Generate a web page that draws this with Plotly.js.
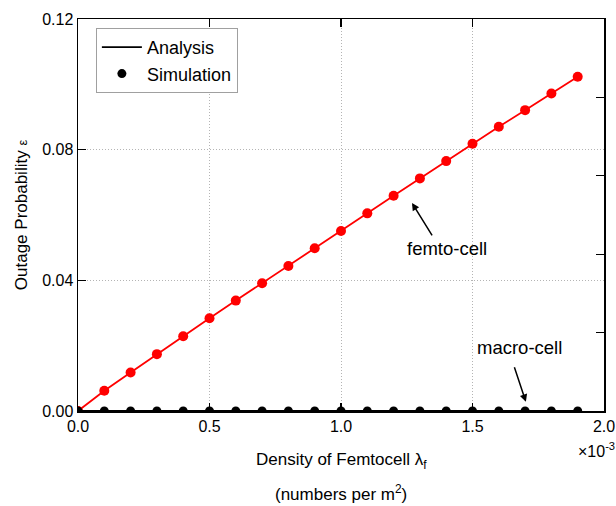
<!DOCTYPE html>
<html>
<head>
<meta charset="utf-8">
<script src="https://cdn.plot.ly/plotly-3.0.1.min.js"></script>
<style>html,body{margin:0;padding:0;background:#fff;}#chart{width:616px;height:506px;}</style>
</head>
<body>
<div id="chart"></div>
<script>
// Density of femtocells (x 10^-3 per m^2)
const density = [0, 0.1, 0.2, 0.3, 0.4, 0.5, 0.6, 0.7, 0.8, 0.9, 1.0, 1.1, 1.2, 1.3, 1.4, 1.5, 1.6, 1.7, 1.8, 1.9];
const femtoOutage = [0, 0.0062, 0.0118, 0.0174, 0.0229, 0.0284, 0.0338, 0.0391, 0.0444, 0.0498, 0.0551, 0.0605, 0.0659, 0.0712, 0.0765, 0.0818, 0.0870, 0.0921, 0.0972, 0.1023];
const macroOutage = [0, 0, 0, 0, 0, 0, 0, 0, 0, 0, 0, 0, 0, 0, 0, 0, 0, 0, 0, 0];
const xTickVals = [0, 0.5, 1.0, 1.5, 2.0];
const yTickVals = [0, 0.04, 0.08, 0.12];

const FONT = 'Liberation Sans, Arial, sans-serif';

const traces = [
  {x: density, y: femtoOutage, mode: 'lines', line: {color: '#ff0000', width: 1.8}, showlegend: false, hoverinfo: 'skip'},
  {x: density, y: femtoOutage, mode: 'markers', marker: {color: '#ff0000', size: 10}, showlegend: false},
  {x: density, y: macroOutage, mode: 'lines', name: 'Analysis', line: {color: '#000000', width: 1.8}},
  {x: density, y: macroOutage, mode: 'markers', name: 'Simulation', marker: {color: '#000000', size: 9}},
  {x: [0, 0.12], y: [0, 0.12], yaxis: 'y2', mode: 'markers', marker: {opacity: 0}, showlegend: false, hoverinfo: 'skip'}
];

const layout = {
  width: 616, height: 506,
  margin: {l: 78, r: 12, t: 19, b: 95},
  paper_bgcolor: '#ffffff', plot_bgcolor: '#ffffff',
  font: {family: FONT, size: 16, color: '#000'},
  showlegend: true,
  legend: {
    x: 0.034, y: 0.977, xanchor: 'left', yanchor: 'top',
    bordercolor: '#a0a0a0', borderwidth: 1, bgcolor: '#ffffff',
    font: {family: FONT, size: 18, color: '#000'},
    tracegroupgap: 0, itemwidth: 40
  },
  xaxis: {
    range: [0, 2], tickvals: xTickVals, tickformat: '.1f',
    ticks: 'inside', ticklen: 8, tickwidth: 1.2, tickcolor: '#000',
    showline: true, linecolor: '#000', linewidth: 1.5, mirror: 'ticks',
    showgrid: true, gridcolor: '#b4b4b4', griddash: '1px,2px', gridwidth: 1,
    zeroline: false, tickfont: {family: FONT, size: 16}
  },
  yaxis: {
    range: [0, 0.12], tickvals: yTickVals, tickformat: '.2f',
    ticks: 'inside', ticklen: 8, tickwidth: 1.2, tickcolor: '#000',
    showline: true, linecolor: '#000', linewidth: 1.5, mirror: true,
    showgrid: true, gridcolor: '#b4b4b4', griddash: '1px,2px', gridwidth: 1,
    zeroline: false, tickfont: {family: FONT, size: 16},
    title: {text: 'Outage Probability <span style="font-size:13px">ε</span>', font: {family: FONT, size: 17}, standoff: 10}
  },
  yaxis2: {
    overlaying: 'y', side: 'right', range: [0, 0.12], dtick: 0.024, tick0: 0,
    ticks: 'inside', ticklen: 8, tickwidth: 1.2, tickcolor: '#000',
    showticklabels: false, showgrid: false, zeroline: false, showline: false
  },
  annotations: [
    {xref: 'paper', yref: 'paper', x: 0.5, y: 0, yshift: -50, yanchor: 'middle', showarrow: false,
     text: 'Density of Femtocell λ<sub>f</sub>', font: {family: FONT, size: 17}},
    {xref: 'paper', yref: 'paper', x: 0.5, y: 0, yshift: -82, yanchor: 'middle', showarrow: false,
     text: '(numbers per m<sup>2</sup>)', font: {family: FONT, size: 17}},
    {xref: 'paper', yref: 'paper', x: 1, y: 0, xshift: 13, yshift: -27, xanchor: 'right', yanchor: 'top', showarrow: false,
     text: '×10<sup>-3</sup>', font: {family: FONT, size: 16}},
    {x: 1.403, y: 0.0496, showarrow: false, text: 'femto-cell', font: {family: FONT, size: 18.5}},
    {x: 1.27, y: 0.0637, ax: 21, ay: 34, showarrow: true, text: '', arrowhead: 2, arrowsize: 1, arrowwidth: 1.5, arrowcolor: '#000', standoff: 0},
    {x: 1.677, y: 0.0193, showarrow: false, text: 'macro-cell', font: {family: FONT, size: 18.5}},
    {x: 1.703, y: 0.0028, ax: -12, ay: -36, showarrow: true, text: '', arrowhead: 2, arrowsize: 1, arrowwidth: 1.5, arrowcolor: '#000', standoff: 0}
  ]
};

Plotly.newPlot('chart', traces, layout, {displayModeBar: false, staticPlot: true});
</script>
</body>
</html>
